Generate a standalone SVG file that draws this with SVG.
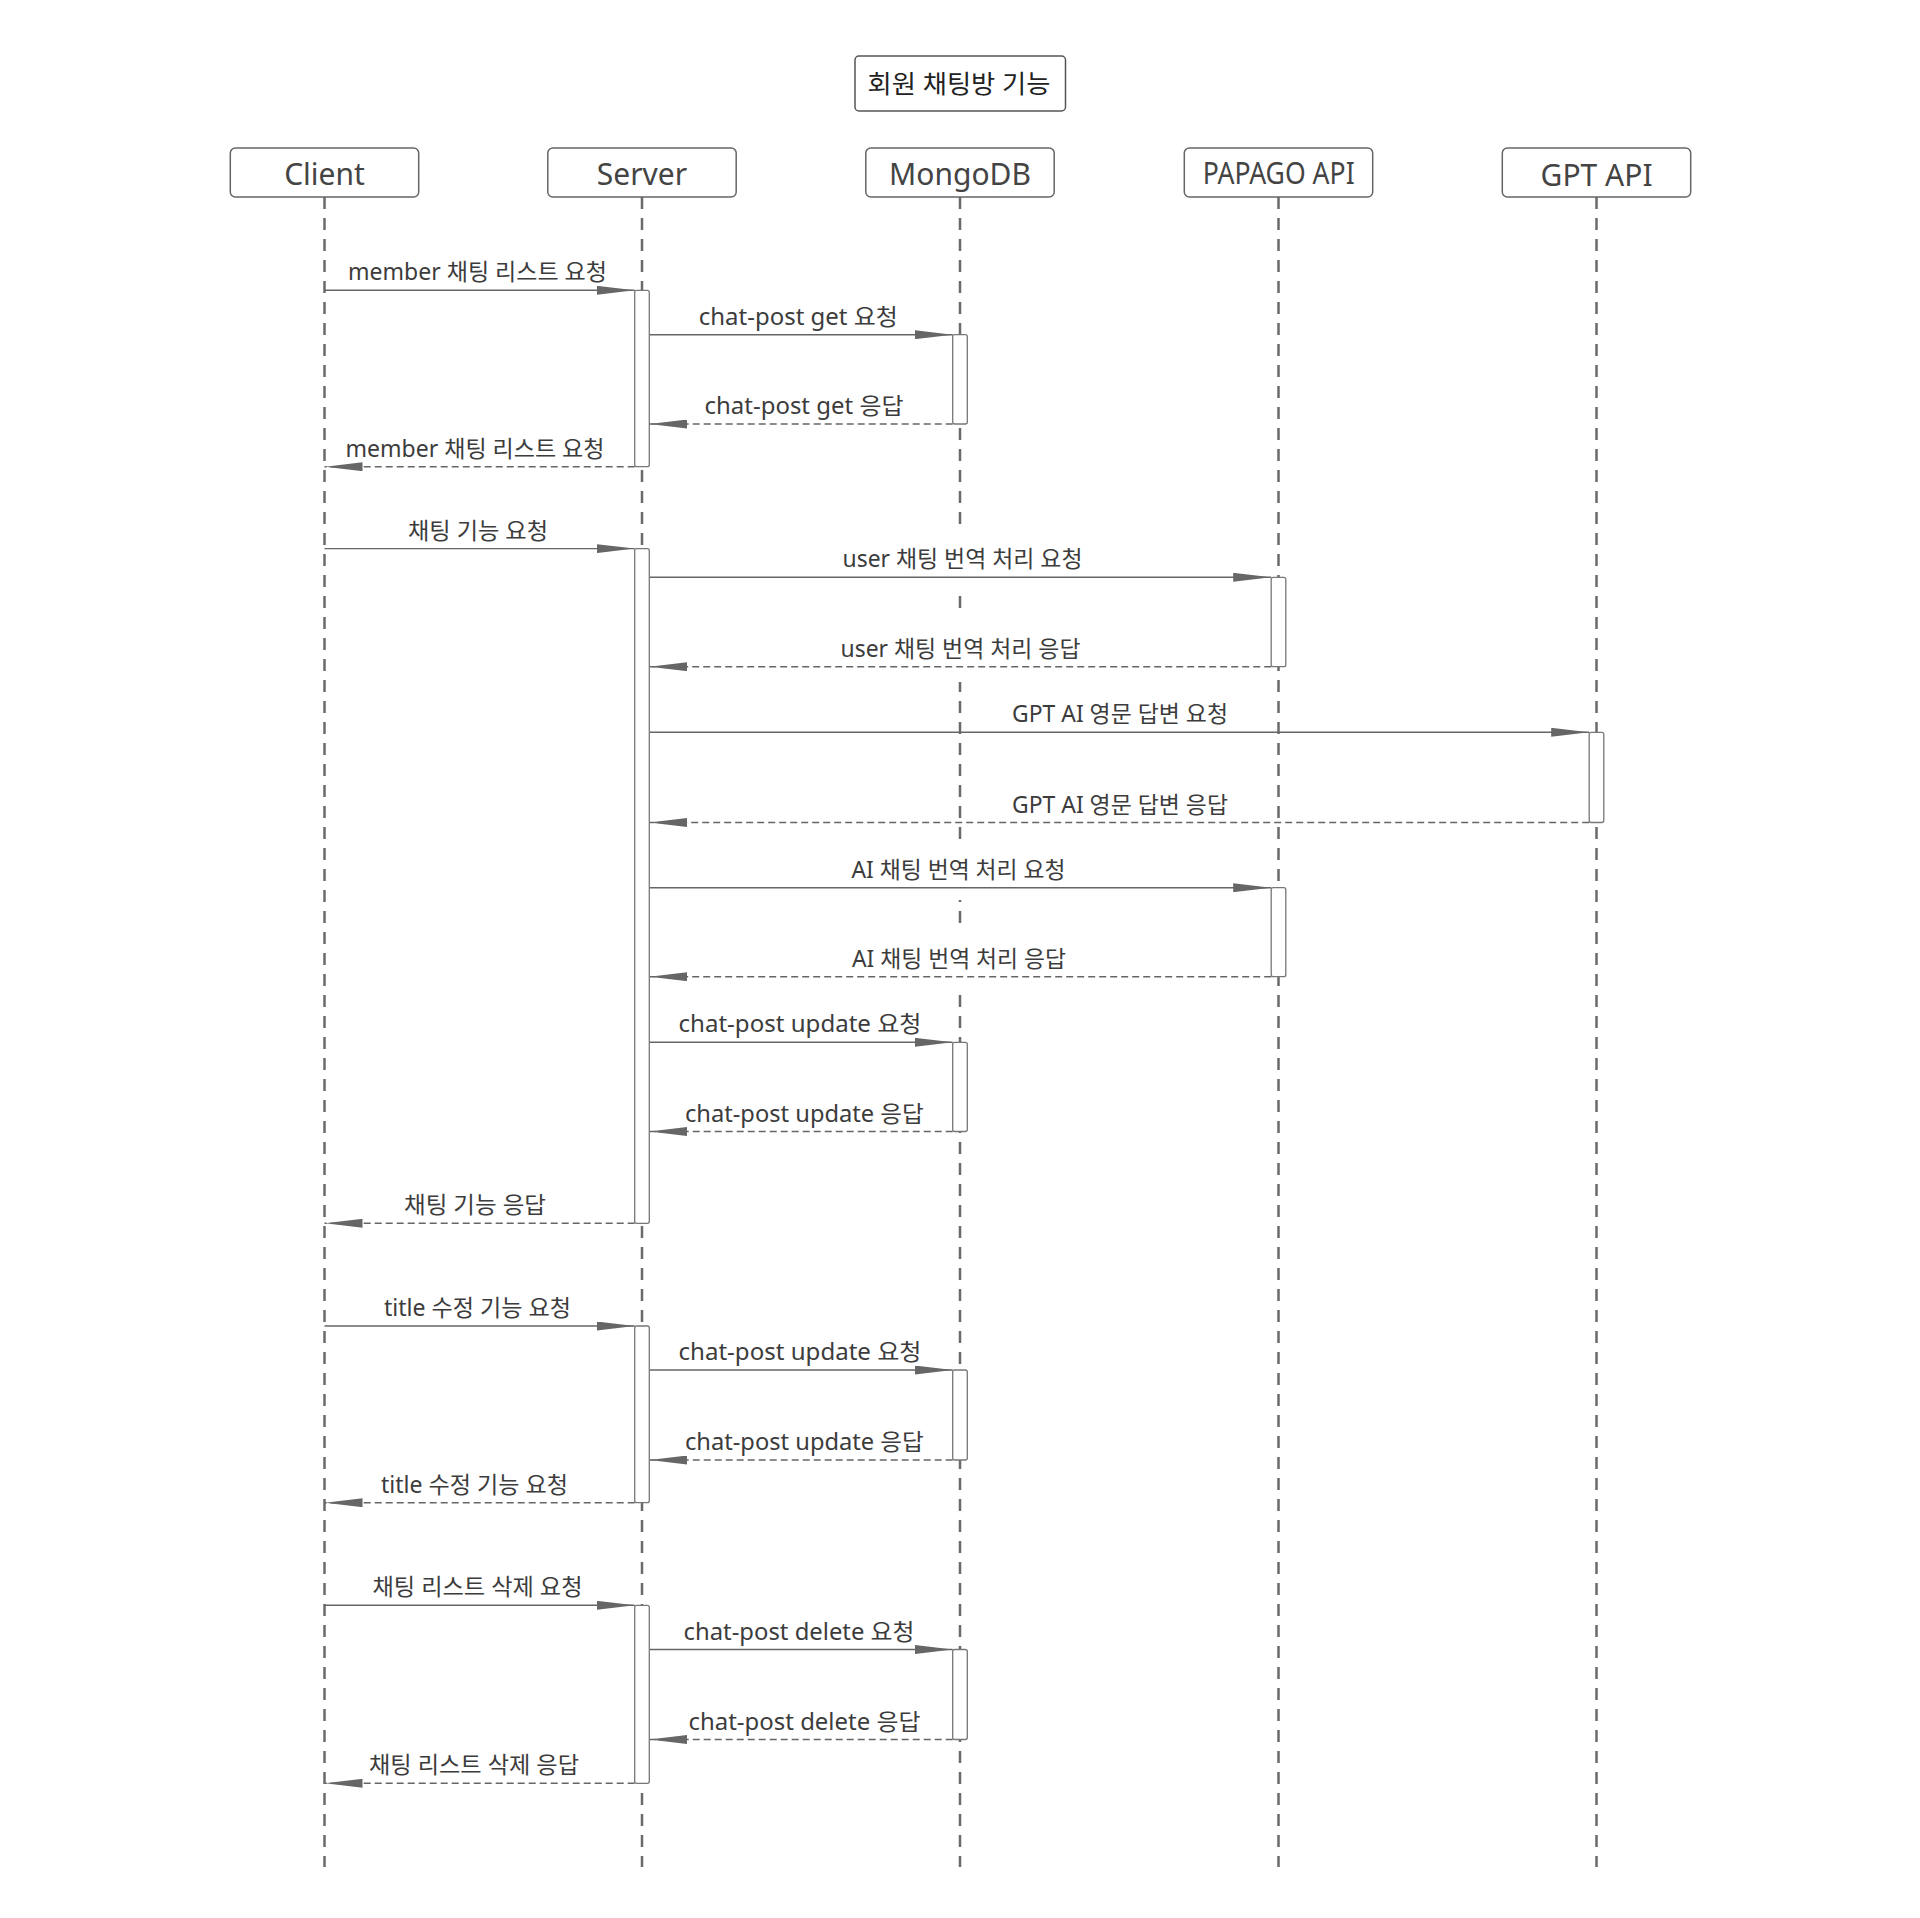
<svg xmlns="http://www.w3.org/2000/svg" width="1920" height="1918" viewBox="0 0 1920 1918">
<style>
.box{fill:#fff;stroke:#666;stroke-width:1.5}
.hdr{font-family:"Noto Sans","Noto Sans CJK KR",sans-serif;font-size:30px;fill:#444;text-anchor:middle}
.life{stroke:#6a6a6a;stroke-width:2.5;stroke-dasharray:12 9;fill:none}
.msg{stroke:#666;stroke-width:1.4;fill:none;marker-end:url(#ah)}
.ret{stroke-dasharray:7 4}
.lbl{font-family:"Noto Sans","Noto Sans CJK KR",sans-serif;font-size:23px;fill:#3c3c3c;text-anchor:middle}
.act{fill:#fff;stroke:#777;stroke-width:1.3}
.bg{fill:#fff;stroke:none}
</style>
<defs>
<marker id="ah" viewBox="0 0 38 9" refX="38" refY="4.5" markerWidth="38" markerHeight="9" markerUnits="userSpaceOnUse" orient="auto">
<path d="M0,0 L38,4.5 L0,9 z" fill="#666"/>
</marker>
</defs>
<rect width="1920" height="1918" fill="#fff"/>

<g id="title">
<rect x="855" y="56" width="210.5" height="55" rx="4" fill="#fff" stroke="#555" stroke-width="1.5"/>
<text x="959" y="93" font-family="Noto Sans, Noto Sans CJK KR, sans-serif" font-size="25" fill="#222" text-anchor="middle" textLength="183" lengthAdjust="spacingAndGlyphs">회원 채팅방 기능</text>
</g>

<g id="node-client">
<line class="life" x1="324.5" y1="197" x2="324.5" y2="1867"/>
<rect class="box" x="230.3" y="148" width="188.4" height="49" rx="5"/>
<text class="hdr" x="324.5" y="185">Client</text>
</g>
<g id="node-server">
<line class="life" x1="642" y1="197" x2="642" y2="1867"/>
<rect class="box" x="547.8" y="148" width="188.4" height="49" rx="5"/>
<text class="hdr" x="642" y="185">Server</text>
</g>
<g id="node-mongodb">
<line class="life" x1="960" y1="197" x2="960" y2="1867"/>
<rect class="box" x="865.8" y="148" width="188.4" height="49" rx="5"/>
<text class="hdr" x="960" y="185" font-size="32">MongoDB</text>
</g>
<g id="node-papago">
<line class="life" x1="1278.5" y1="197" x2="1278.5" y2="1867"/>
<rect class="box" x="1184.3" y="148" width="188.4" height="49" rx="5"/>
<text class="hdr" x="1278.7" y="184" font-size="29" textLength="152" lengthAdjust="spacingAndGlyphs">PAPAGO API</text>
</g>
<g id="node-gpt">
<line class="life" x1="1596.5" y1="197" x2="1596.5" y2="1867"/>
<rect class="box" x="1502.3" y="148" width="188.4" height="49" rx="5"/>
<text class="hdr" x="1596.6" y="186" font-size="28">GPT API</text>
</g>

<g id="connectors">
<rect class="bg" x="840" y="527" width="245" height="69"/>
<rect class="bg" x="838" y="617" width="245" height="65"/>
<rect class="bg" x="850" y="840" width="218" height="60"/>
<rect class="bg" x="850" y="929" width="218" height="65"/>

<line class="msg" x1="324.5" y1="290.3" x2="634.7" y2="290.3"/>
<line class="msg" x1="649.3" y1="334.7" x2="952.7" y2="334.7"/>
<line class="msg ret" x1="952.7" y1="424" x2="649.3" y2="424"/>
<line class="msg ret" x1="634.7" y1="466.7" x2="324.5" y2="466.7"/>
<line class="msg" x1="324.5" y1="548.6" x2="634.7" y2="548.6"/>
<line class="msg" x1="649.3" y1="577.3" x2="1271.2" y2="577.3"/>
<line class="msg ret" x1="1271.2" y1="666.7" x2="649.3" y2="666.7"/>
<line class="msg" x1="649.3" y1="732.3" x2="1589.2" y2="732.3"/>
<line class="msg ret" x1="1589.2" y1="822.5" x2="649.3" y2="822.5"/>
<line class="msg" x1="649.3" y1="887.7" x2="1271.2" y2="887.7"/>
<line class="msg ret" x1="1271.2" y1="976.7" x2="649.3" y2="976.7"/>
<line class="msg" x1="649.3" y1="1042.3" x2="952.7" y2="1042.3"/>
<line class="msg ret" x1="952.7" y1="1131.5" x2="649.3" y2="1131.5"/>
<line class="msg ret" x1="634.7" y1="1223.3" x2="324.5" y2="1223.3"/>
<line class="msg" x1="324.5" y1="1326" x2="634.7" y2="1326"/>
<line class="msg" x1="649.3" y1="1370" x2="952.7" y2="1370"/>
<line class="msg ret" x1="952.7" y1="1460" x2="649.3" y2="1460"/>
<line class="msg ret" x1="634.7" y1="1502.7" x2="324.5" y2="1502.7"/>
<line class="msg" x1="324.5" y1="1605.3" x2="634.7" y2="1605.3"/>
<line class="msg" x1="649.3" y1="1649.5" x2="952.7" y2="1649.5"/>
<line class="msg ret" x1="952.7" y1="1739.5" x2="649.3" y2="1739.5"/>
<line class="msg ret" x1="634.7" y1="1783.3" x2="324.5" y2="1783.3"/>

<text class="lbl" x="477.5" y="280.3" textLength="259" lengthAdjust="spacingAndGlyphs">member 채팅 리스트 요청</text>
<text class="lbl" x="798.3" y="324.7" textLength="199" lengthAdjust="spacingAndGlyphs">chat-post get 요청</text>
<text class="lbl" x="804" y="414" textLength="199" lengthAdjust="spacingAndGlyphs">chat-post get 응답</text>
<text class="lbl" x="475" y="456.7" textLength="259" lengthAdjust="spacingAndGlyphs">member 채팅 리스트 요청</text>
<text class="lbl" x="478" y="538.6" textLength="140" lengthAdjust="spacingAndGlyphs">채팅 기능 요청</text>
<text class="lbl" x="962.5" y="567.3" textLength="240" lengthAdjust="spacingAndGlyphs">user 채팅 번역 처리 요청</text>
<text class="lbl" x="960.5" y="656.7" textLength="240" lengthAdjust="spacingAndGlyphs">user 채팅 번역 처리 응답</text>
<text class="lbl" x="1120" y="722.3" textLength="216" lengthAdjust="spacingAndGlyphs">GPT AI 영문 답변 요청</text>
<text class="lbl" x="1120" y="812.5" textLength="216" lengthAdjust="spacingAndGlyphs">GPT AI 영문 답변 응답</text>
<text class="lbl" x="958.5" y="877.7" textLength="214" lengthAdjust="spacingAndGlyphs">AI 채팅 번역 처리 요청</text>
<text class="lbl" x="959" y="966.7" textLength="214" lengthAdjust="spacingAndGlyphs">AI 채팅 번역 처리 응답</text>
<text class="lbl" x="800" y="1032.3" textLength="243" lengthAdjust="spacingAndGlyphs">chat-post update 요청</text>
<text class="lbl" x="804.4" y="1121.5" textLength="239" lengthAdjust="spacingAndGlyphs">chat-post update 응답</text>
<text class="lbl" x="475" y="1213.3" textLength="142" lengthAdjust="spacingAndGlyphs">채팅 기능 응답</text>
<text class="lbl" x="477.4" y="1316" textLength="187" lengthAdjust="spacingAndGlyphs">title 수정 기능 요청</text>
<text class="lbl" x="800" y="1360" textLength="243" lengthAdjust="spacingAndGlyphs">chat-post update 요청</text>
<text class="lbl" x="804.4" y="1450" textLength="239" lengthAdjust="spacingAndGlyphs">chat-post update 응답</text>
<text class="lbl" x="474.4" y="1492.7" textLength="187" lengthAdjust="spacingAndGlyphs">title 수정 기능 요청</text>
<text class="lbl" x="477.5" y="1595.3" textLength="210" lengthAdjust="spacingAndGlyphs">채팅 리스트 삭제 요청</text>
<text class="lbl" x="799" y="1639.5" textLength="231" lengthAdjust="spacingAndGlyphs">chat-post delete 요청</text>
<text class="lbl" x="804.5" y="1729.5" textLength="232" lengthAdjust="spacingAndGlyphs">chat-post delete 응답</text>
<text class="lbl" x="474" y="1773.3" textLength="210" lengthAdjust="spacingAndGlyphs">채팅 리스트 삭제 응답</text>
</g>

<g id="activations">
<rect class="act" x="634.7" y="290.3" width="14.6" height="176.4" rx="2"/>
<rect class="act" x="634.7" y="548.6" width="14.6" height="674.7" rx="2"/>
<rect class="act" x="634.7" y="1326" width="14.6" height="176.7" rx="2"/>
<rect class="act" x="634.7" y="1605.3" width="14.6" height="178" rx="2"/>
<rect class="act" x="952.7" y="334.7" width="14.6" height="89.3" rx="2"/>
<rect class="act" x="952.7" y="1042.3" width="14.6" height="89.2" rx="2"/>
<rect class="act" x="952.7" y="1370" width="14.6" height="90" rx="2"/>
<rect class="act" x="952.7" y="1649.5" width="14.6" height="90" rx="2"/>
<rect class="act" x="1271.2" y="577.3" width="14.6" height="89.4" rx="2"/>
<rect class="act" x="1271.2" y="887.7" width="14.6" height="89" rx="2"/>
<rect class="act" x="1589.2" y="732.3" width="14.6" height="90.2" rx="2"/>
</g>
</svg>
